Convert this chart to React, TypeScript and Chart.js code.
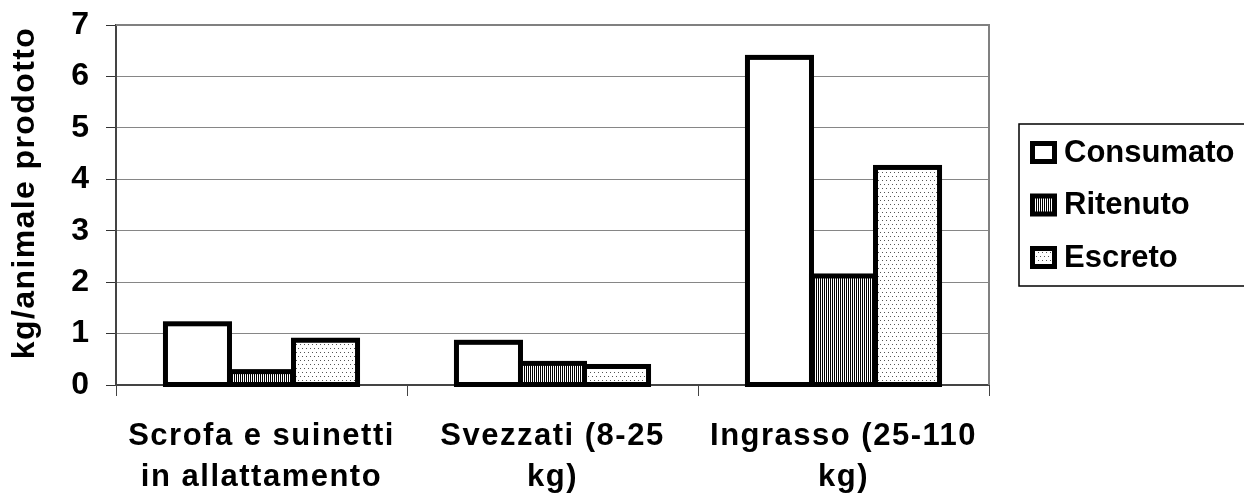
import React, { useEffect, useRef } from 'react';
import { Chart, registerables } from 'chart.js';

Chart.register(...registerables);

// ---- data ----
const categories: string[][] = [
  ['Scrofa e suinetti', 'in allattamento'],
  ['Svezzati (8-25', 'kg)'],
  ['Ingrasso (25-110', 'kg)'],
];
const seriesNames = ['Consumato', 'Ritenuto', 'Escreto'];
const consumato = [1.19, 0.83, 6.37];
const ritenuto = [0.26, 0.42, 2.12];
const escreto = [0.87, 0.36, 4.23];
const yTicks = [0, 1, 2, 3, 4, 5, 6, 7];
const yTitle = 'kg/animale prodotto';

const FONT = "'Liberation Sans', Arial, Helvetica, sans-serif";

function makeStripe(ctx: CanvasRenderingContext2D) {
  const c = document.createElement('canvas');
  c.width = 2;
  c.height = 2;
  const x = c.getContext('2d')!;
  x.fillStyle = '#fff';
  x.fillRect(0, 0, 2, 2);
  x.fillStyle = '#000';
  x.fillRect(0, 0, 1, 2);
  return ctx.createPattern(c, 'repeat')!;
}

function makeDots(ctx: CanvasRenderingContext2D) {
  const c = document.createElement('canvas');
  c.width = 8;
  c.height = 8;
  const x = c.getContext('2d')!;
  x.fillStyle = '#fff';
  x.fillRect(0, 0, 8, 8);
  x.fillStyle = '#555';
  x.fillRect(0, 0, 1, 1);
  x.fillRect(4, 0, 1, 1);
  x.fillRect(2, 4, 1, 1);
  x.fillRect(6, 4, 1, 1);
  return ctx.createPattern(c, 'repeat')!;
}

function patch(obj: any, key: string, spacing: string, dy = 0) {
  if (!obj || !obj[key] || obj[key].__patched) return;
  const orig = obj[key];
  const f = function (this: any, ...args: any[]) {
    const ctx = this.ctx as any;
    ctx.save();
    ctx.letterSpacing = spacing;
    if (dy) ctx.translate(0, dy);
    orig.apply(this, args);
    ctx.restore();
  };
  (f as any).__patched = true;
  obj[key] = f;
}

const customPlugin = {
  id: 'custom',
  beforeDraw(chart: any) {
    patch(chart.scales.x, 'drawLabels', '1.5px');
    patch(chart.scales.y, 'drawTitle', '1.4px', -12);
  },
  beforeDatasetsDraw(chart: any) {
    const { ctx, chartArea } = chart;
    const { left, right, top, bottom } = chartArea;
    ctx.save();
    ctx.strokeStyle = '#808080';
    ctx.lineWidth = 2;
    ctx.beginPath();
    ctx.moveTo(left, top);
    ctx.lineTo(right, top);
    ctx.lineTo(right, bottom);
    ctx.stroke();
    ctx.restore();
  },
  afterDatasetsDraw(chart: any) {
    const ctx = chart.ctx;
    ctx.save();
    ctx.strokeStyle = '#000';
    ctx.lineWidth = 5;
    ctx.lineJoin = 'miter';
    chart.data.datasets.forEach((_ds: any, i: number) => {
      const meta = chart.getDatasetMeta(i);
      meta.data.forEach((el: any) => {
        const { x, y, base, width } = el.getProps(['x', 'y', 'base', 'width'], true);
        ctx.strokeRect(x - width / 2, y, width, base - y);
      });
    });
    ctx.restore();
  },
  afterDraw(chart: any) {
    const ctx = chart.ctx;
    const boxLeft = chart.chartArea.right + 30;
    const boxTop = 124;
    const boxBottom = 286;
    ctx.save();
    ctx.strokeStyle = '#000';
    ctx.lineWidth = 1.5;
    ctx.strokeRect(boxLeft, boxTop, chart.width - boxLeft + 10, boxBottom - boxTop);
    const rowGap = 52.5;
    const firstRow = 150;
    chart.data.datasets.forEach((ds: any, i: number) => {
      const cy = firstRow + i * rowGap;
      const sx = boxLeft + 13.5;
      const sw = 22;
      const sh = 18;
      const sy = cy + 2.5 - sh / 2;
      ctx.fillStyle = ds.backgroundColor;
      ctx.fillRect(sx, sy, sw, sh);
      ctx.lineWidth = 5;
      ctx.strokeStyle = '#000';
      ctx.strokeRect(sx, sy, sw, sh);
      ctx.fillStyle = '#000';
      ctx.font = `bold 31px ${FONT}`;
      ctx.textBaseline = 'alphabetic';
      ctx.textAlign = 'left';
      ctx.fillText(ds.label, boxLeft + 45, cy + 11.5);
    });
    ctx.restore();
  },
};

export default function App() {
  const ref = useRef<HTMLCanvasElement>(null);

  useEffect(() => {
    const canvas = ref.current!;
    const ctx2d = canvas.getContext('2d')!;
    const stripe = makeStripe(ctx2d);
    const dots = makeDots(ctx2d);
    const fills: any[] = ['#ffffff', stripe, dots];
    const values = [consumato, ritenuto, escreto];

    const chart = new Chart(canvas, {
      type: 'bar',
      data: {
        labels: categories as any,
        datasets: seriesNames.map((name, i) => ({
          label: name,
          data: values[i],
          backgroundColor: fills[i],
          borderWidth: 0,
          categoryPercentage: 0.66,
          barPercentage: 1,
        })),
      },
      options: {
        responsive: false,
        animation: false,
        devicePixelRatio: 1,
        layout: { padding: { top: 25, right: 255, left: 0, bottom: 0 } },
        plugins: {
          legend: { display: false },
          tooltip: { enabled: false },
        },
        scales: {
          x: {
            grid: {
              display: true,
              drawOnChartArea: false,
              drawTicks: true,
              tickLength: 11,
              tickColor: '#444',
              offset: true,
            },
            border: { display: true, color: '#444', width: 2 },
            ticks: {
              color: '#000',
              padding: 20,
              maxRotation: 0,
              minRotation: 0,
              autoSkip: false,
              font: { family: FONT, size: 31, weight: 'bold', lineHeight: 1.32 },
            },
            afterFit(scale: any) {
              scale.height = 116;
              scale.paddingLeft = 0;
              scale.paddingRight = 0;
            },
          },
          y: {
            min: yTicks[0],
            max: yTicks[yTicks.length - 1],
            afterBuildTicks(scale: any) {
              scale.ticks = yTicks.map((v) => ({ value: v }));
            },
            grid: {
              color: '#868686',
              lineWidth: 1,
              drawTicks: true,
              tickLength: 10,
              tickColor: '#333',
            },
            border: { display: true, color: '#444', width: 2 },
            ticks: {
              color: '#000',
              padding: 17,
              font: { family: FONT, size: 32, weight: 'bold' },
            },
            title: {
              display: true,
              text: yTitle,
              color: '#000',
              font: { family: FONT, size: 32, weight: 'bold', lineHeight: 1.2 },
              padding: { top: 6, bottom: 0 },
            },
            afterFit(scale: any) {
              scale.width = 116;
              scale.paddingTop = 0;
              scale.paddingBottom = 0;
            },
          },
        },
      } as any,
      plugins: [customPlugin],
    });
    return () => chart.destroy();
  }, []);

  return (
    <div style={{ position: 'absolute', left: 0, top: 0, width: 1244, height: 501, background: '#fff' }}>
      <canvas ref={ref} width={1244} height={501} style={{ display: 'block', width: 1244, height: 501 }} />
    </div>
  );
}
